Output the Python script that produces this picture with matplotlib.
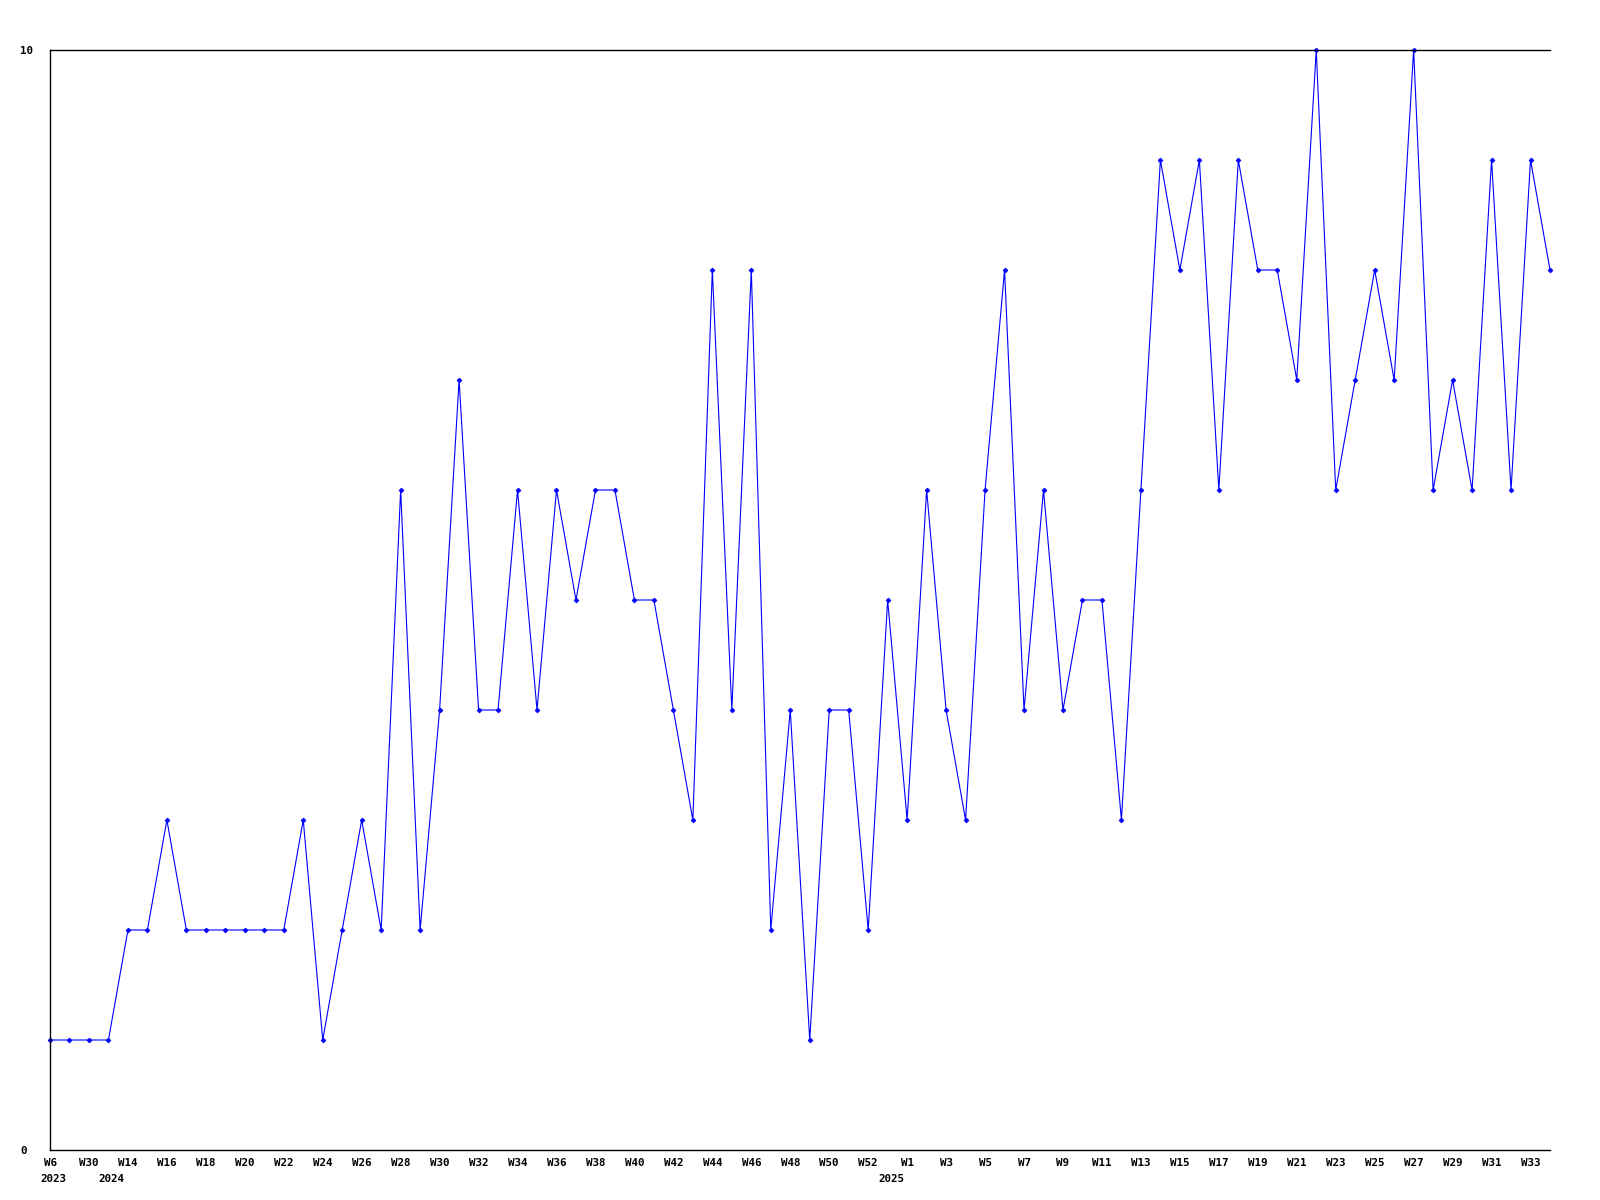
import matplotlib
matplotlib.use("Agg")
import matplotlib.pyplot as plt
import matplotlib.transforms as mtransforms

# weekly counts, one point per week
values = [1, 1, 1, 1, 2, 2, 3, 2, 2, 2, 2, 2, 2, 3, 1, 2, 3, 2, 6, 2,
          4, 7, 4, 4, 6, 4, 6, 5, 6, 6, 5, 5, 4, 3, 8, 4, 8, 2, 4, 1,
          4, 4, 2, 5, 3, 6, 4, 3, 6, 8, 4, 6, 4, 5, 5, 3, 6, 9, 8, 9,
          6, 9, 8, 8, 7, 10, 6, 7, 8, 7, 10, 6, 7, 6, 9, 6, 9, 8]

week_labels = ["W6", "W30", "W14", "W16", "W18", "W20", "W22", "W24", "W26", "W28",
               "W30", "W32", "W34", "W36", "W38", "W40", "W42", "W44", "W46", "W48",
               "W50", "W52", "W1", "W3", "W5", "W7", "W9", "W11", "W13", "W15",
               "W17", "W19", "W21", "W23", "W25", "W27", "W29", "W31", "W33"]

years = ["2023", "2024", "2025"]
year_pos = [0, 3, 43]

font = dict(family="DejaVu Sans Mono", fontweight="bold", fontsize=7.8)

fig = plt.figure(figsize=(16, 12), dpi=100)
ax = fig.add_axes([50 / 1600, 50 / 1200, 1500 / 1600, 1100 / 1200])

x = list(range(len(values)))
ax.plot(x, values, color="#0000ff", linewidth=0.8, marker="D", markersize=2.5,
        markeredgewidth=0.5, clip_on=False)

ax.set_xlim(0, len(values) - 1)
ax.set_ylim(0, 10)

ax.set_yticks([0, 10])
ax.set_yticklabels(["0", "10"], ha="left", **font)
ax.set_xticks(list(range(0, len(values), 2))[:len(week_labels)])
ax.set_xticklabels(week_labels, **font)
ax.tick_params(axis="both", length=0)
ax.tick_params(axis="x", pad=6)
ax.tick_params(axis="y", pad=21.6)

for sp in ["left", "top", "bottom"]:
    ax.spines[sp].set_linewidth(1)
    ax.spines[sp].set_color("black")
ax.spines["right"].set_visible(False)

trans = mtransforms.blended_transform_factory(ax.transData, ax.transAxes)
for yr, p in zip(years, year_pos):
    ax.text(p - 0.5, -29 / 1100, yr, transform=trans, ha="left", va="center", **font)

fig.savefig("out.png", dpi=100)
